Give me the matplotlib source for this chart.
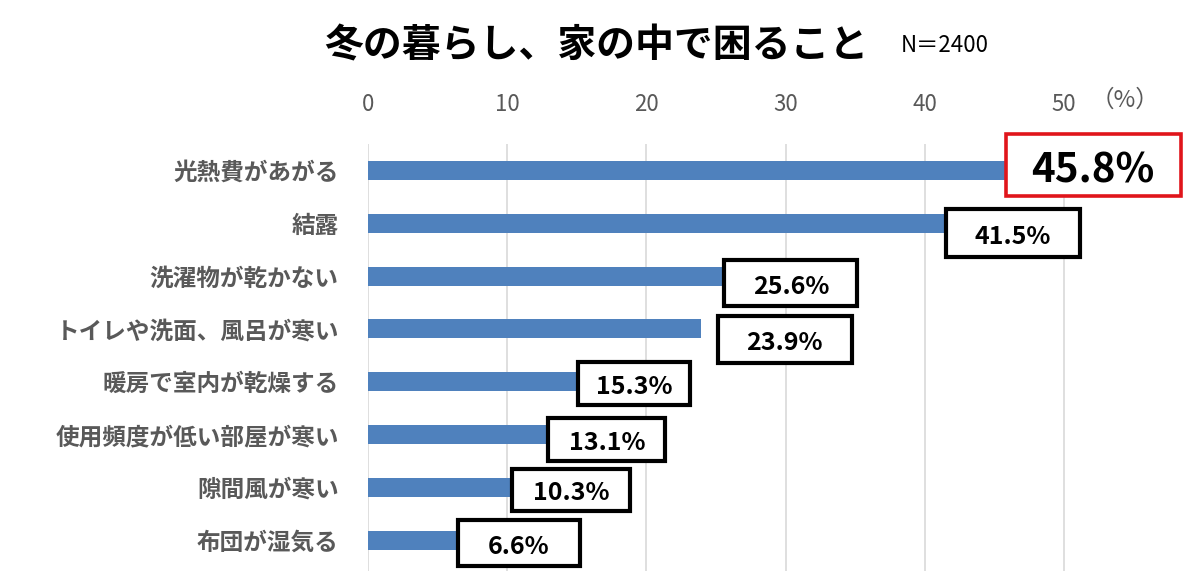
import matplotlib
matplotlib.use('Agg')
import matplotlib.pyplot as plt
import matplotlib.transforms as mtransforms
from matplotlib.patches import Rectangle

plt.rcParams['font.family'] = ['Noto Sans CJK JP', 'DejaVu Sans']

# datos del grafico
categorias = ['光熱費があがる', '結露', '洗濯物が乾かない', 'トイレや洗面、風呂が寒い',
              '暖房で室内が乾燥する', '使用頻度が低い部屋が寒い', '隙間風が寒い', '布団が湿気る']
valores = [45.8, 41.5, 25.6, 23.9, 15.3, 13.1, 10.3, 6.6]
ticks_x = [0, 10, 20, 30, 40, 50]

fig = plt.figure(figsize=(12, 5.71), dpi=100)
ax = fig.add_axes([368 / 1200, 0.0, (1190 - 368) / 1200, (571 - 148 + 4) / 571])

ax.barh(range(len(categorias)), valores, height=0.36, color='#4F81BD', zorder=3)
ax.set_ylim(len(categorias) - 0.5 + 0.08, -0.5)
ax.set_xlim(0, (1190 - 368) / 13.92)
ax.set_yticks(range(len(categorias)))
ax.set_yticklabels(categorias, fontsize=17, fontweight='bold', color='#595959')
ax.set_xticks(ticks_x)
ax.xaxis.tick_top()
ax.tick_params(axis='x', labelsize=16, labelcolor='#595959', length=0, pad=20)
ax.tick_params(axis='y', length=0, pad=21)
ax.grid(axis='x', color='#D9D9D9', linewidth=1.2, zorder=0)
for s in ax.spines.values():
    s.set_visible(False)

# recuadros de las etiquetas (en pixeles respecto al final de la barra)
# (dx, centro vertical, ancho, alto)
cajas = [(0, 5, 175, 62), (0, -10, 134, 48), (0, -7, 133, 46), (17, -11, 134, 47),
         (-3, -2, 112, 43), (-2, -5, 117, 43), (1, -2, 118, 42), (-2, -3, 122, 46)]
for i, (v, (dx, dy, w, h)) in enumerate(zip(valores, cajas)):
    tr = mtransforms.IdentityTransform() + mtransforms.ScaledTranslation(v, i, ax.transData)
    rojo = i == 0
    rect = Rectangle((dx, dy - h / 2), w, h, transform=tr, fc='white',
                     ec='#E0151B' if rojo else 'black', lw=2.6 if rojo else 3.0,
                     zorder=5, clip_on=False)
    ax.add_patch(rect)
    ax.text(dx + w / 2, dy - 1, f'{v}%', transform=tr, ha='center', va='center_baseline',
            fontsize=29 if rojo else 18, fontweight='bold', color='black', zorder=6)

fig.text(596 / 1200, 1 - 46 / 571, '冬の暮らし、家の中で困ること', fontsize=28, fontweight='bold',
         ha='center', va='center')
fig.text(945 / 1200, 1 - 46 / 571, 'N＝2400', fontsize=16, ha='center', va='center')
fig.text(1125 / 1200, 1 - 100 / 571, '（%）', fontsize=17, color='#595959', ha='center', va='center')

fig.savefig('out.png', dpi=100)
